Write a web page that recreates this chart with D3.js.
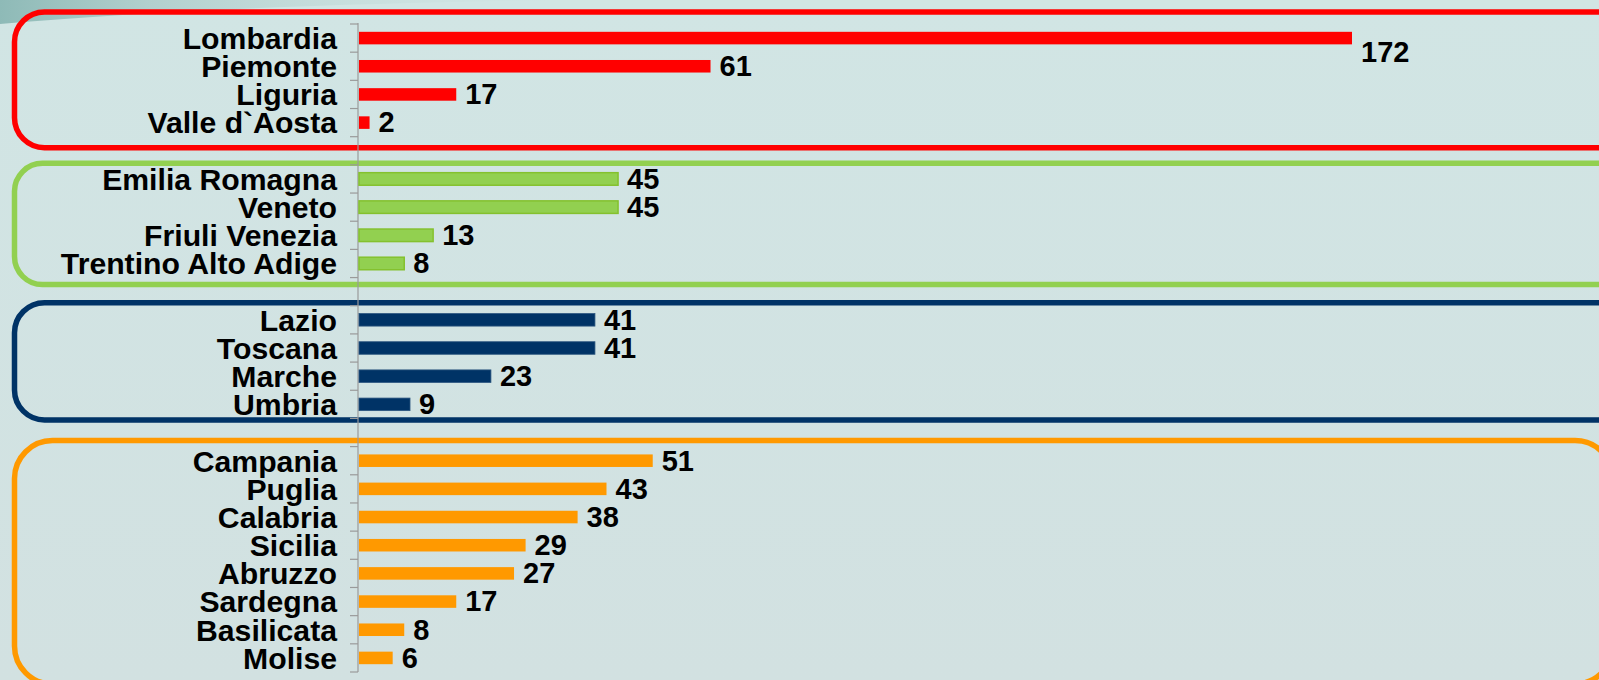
<!DOCTYPE html>
<html>
<head>
<meta charset="utf-8">
<script src="https://cdn.jsdelivr.net/npm/d3@7"></script>
<style>
  html, body { margin: 0; padding: 0; background: #d1e4e3; overflow: hidden; }
  svg { display: block; }
</style>
</head>
<body>
<svg id="chart" width="1599" height="680"></svg>
<script>
// ---- data ----
const nordOvest = ["Lombardia", "Piemonte", "Liguria", "Valle d`Aosta"];
const nordOvestValues = [172, 61, 17, 2];
const nordEst = ["Emilia Romagna", "Veneto", "Friuli Venezia", "Trentino Alto Adige"];
const nordEstValues = [45, 45, 13, 8];
const centro = ["Lazio", "Toscana", "Marche", "Umbria"];
const centroValues = [41, 41, 23, 9];
const sud = ["Campania", "Puglia", "Calabria", "Sicilia", "Abruzzo", "Sardegna", "Basilicata", "Molise"];
const sudValues = [51, 43, 38, 29, 27, 17, 8, 6];
const groupColors = ["#ff0000", "#92d050", "#003366", "#ff9900"];

// ---- build ----
const groups = [
  { names: nordOvest, values: nordOvestValues, color: groupColors[0] },
  { names: nordEst, values: nordEstValues, color: groupColors[1] },
  { names: centro, values: centroValues, color: groupColors[2] },
  { names: sud, values: sudValues, color: groupColors[3] }
];
const rows = [];
const domain = [];
groups.forEach((g, gi) => {
  if (gi > 0) domain.push("__gap" + gi);
  g.names.forEach((n, i) => {
    domain.push(n);
    rows.push({ name: n, value: g.values[i], group: gi, color: g.color });
  });
});
const maxVal = d3.max(rows, d => d.value);

const svg = d3.select("#chart");
const W = 1599, H = 680;

// background
const defs = svg.append("defs");
const bgGrad = defs.append("linearGradient").attr("id", "bg").attr("x1", 0).attr("y1", 0).attr("x2", 0).attr("y2", 1);
bgGrad.append("stop").attr("offset", "0%").attr("stop-color", "#d1e5e4");
bgGrad.append("stop").attr("offset", "100%").attr("stop-color", "#d2e1e1");
svg.append("rect").attr("width", W).attr("height", H).attr("fill", "url(#bg)");
const sw = defs.append("linearGradient").attr("id", "swoosh").attr("x1", 0).attr("y1", 0).attr("x2", 1).attr("y2", 0);
sw.append("stop").attr("offset", "0%").attr("stop-color", "#8ebab7");
sw.append("stop").attr("offset", "25%").attr("stop-color", "#b2d0ce");
sw.append("stop").attr("offset", "100%").attr("stop-color", "#d1e5e4").attr("stop-opacity", 0);
svg.append("path").attr("d", "M0,0 L600,0 Q250,3 0,24 Z").attr("fill", "url(#swoosh)");

// scales
const y = d3.scaleBand().domain(domain).range([24, 672]).paddingInner(0.555).paddingOuter(0.555 / 2);
const x = d3.scaleLinear().domain([0, maxVal]).range([358, 1352]);

// group boxes (edges relative to each group's band span)
const boxRight = [1650, 1650, 1650, 1613];
const boxRadius = [30, 28, 30, 38];
const boxTopGap = [12, 1.5, 3, 6];
const boxBottomGap = [11, 7, 1.5, 12];
groups.forEach((g, gi) => {
  const first = g.names[0], last = g.names[g.names.length - 1];
  const gapPad = (y.step() - y.bandwidth()) / 2;
  const top = y(first) - gapPad - boxTopGap[gi];
  const bottom = y(last) + y.bandwidth() + gapPad + boxBottomGap[gi];
  svg.append("rect")
    .attr("x", 14.5).attr("y", top)
    .attr("width", boxRight[gi] - 14.5).attr("height", bottom - top)
    .attr("rx", boxRadius[gi]).attr("ry", boxRadius[gi])
    .attr("fill", "none").attr("stroke", g.color).attr("stroke-width", 5.5);
});

// axis
const axis = d3.axisLeft(y).tickSize(0).tickSizeOuter(0).tickPadding(21)
  .tickFormat(d => d.startsWith("__gap") ? "" : d);
const gAxis = svg.append("g").attr("transform", `translate(${x(0)},0)`).call(axis);
gAxis.select(".domain").attr("stroke", "#9a9a9a").attr("stroke-width", 1.2)
  .attr("d", `M0,${y.range()[0] - 1}V${y.range()[1]}`);
gAxis.selectAll(".tick text")
  .attr("font-family", "'Liberation Sans', Arial, sans-serif")
  .attr("font-weight", "bold").attr("font-size", 30.2).attr("fill", "#000")
  .attr("dy", "0.36em");

// boundary ticks
const bounds = domain.map(d => y(d) - (y.step() - y.bandwidth()) / 2);
bounds.push(y.range()[1]);
svg.append("g").selectAll("line").data(bounds).join("line")
  .attr("x1", x(0) - 8).attr("x2", x(0))
  .attr("y1", d => d).attr("y2", d => d)
  .attr("stroke", "#9a9a9a").attr("stroke-width", 1.2);

// bars
svg.append("g").selectAll("rect").data(rows).join("rect")
  .attr("x", x(0) + 1)
  .attr("y", d => y(d.name))
  .attr("width", d => x(d.value) - x(0) - 1)
  .attr("height", y.bandwidth())
  .attr("fill", d => d.color)
  .attr("stroke", d => d.group === 1 ? "#84c12e" : (d.group === 2 ? "#2b557f" : "none"))
  .attr("stroke-width", d => d.group === 1 ? 1.5 : 0.8);

// value labels
svg.append("g").selectAll("text").data(rows).join("text")
  .attr("x", d => x(d.value) + 9)
  .attr("y", d => y(d.name) + y.bandwidth() / 2 + (d.value === maxVal ? y.step() / 2 : 0))
  .attr("dy", "0.34em")
  .attr("font-family", "'Liberation Sans', Arial, sans-serif")
  .attr("font-weight", "bold").attr("font-size", 29).attr("fill", "#000")
  .text(d => d.value);
</script>
</body>
</html>
